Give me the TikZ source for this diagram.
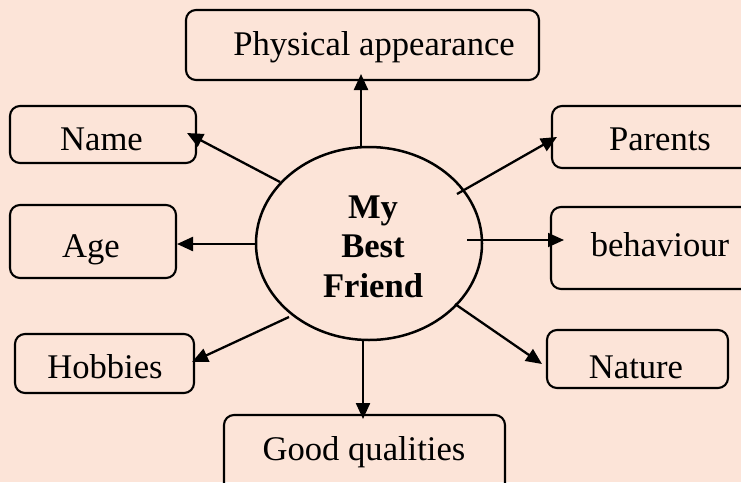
\documentclass[tikz,border=0pt]{standalone}
\usepackage{fontspec}
\setmainfont{Liberation Serif}
\usetikzlibrary{arrows.meta,shapes.geometric}
\definecolor{bgpeach}{RGB}{252,228,216}
\tikzset{
  box/.style={draw=black, line width=2.1pt, rounded corners=10pt, inner sep=0pt, fill=none},
  lbl/.style={font=\fontsize{34.6}{40}\selectfont, inner sep=0pt, anchor=base},
  conn/.style={line width=2.3pt, -{Triangle[length=16pt,width=14pt]}},
}
\begin{document}
\begin{tikzpicture}[x=1pt,y=-1pt]
\useasboundingbox (0,0) rectangle (741,482);
\clip (0,0) rectangle (741,482);
\fill[bgpeach] (0,0) rectangle (741,482);
% boxes
\node[box, minimum width=353pt, minimum height=70pt] (phys) at (362.5,45) {};
\node[box, minimum width=186pt, minimum height=57pt] (name) at (103,134.5) {};
\node[box, minimum width=166pt, minimum height=73pt] (age) at (93,241.5) {};
\node[box, minimum width=223pt, minimum height=62pt] (parents) at (663.5,137) {};
\node[box, minimum width=224pt, minimum height=82pt] (behav) at (663,248) {};
\node[box, minimum width=179pt, minimum height=59pt] (hobbies) at (104.5,363.5) {};
\node[box, minimum width=181pt, minimum height=58pt] (nature) at (637.5,359) {};
\node[box, minimum width=281pt, minimum height=95pt] (good) at (364.5,462.5) {};
\node[draw=black, line width=2.5pt, ellipse, minimum width=226pt, minimum height=193pt, inner sep=0pt] (friend) at (369,243.5) {};
% labels
\node[lbl] (tphys) at (374,55) {Physical appearance};
\node[lbl] (tname) at (101.5,150) {Name};
\node[lbl] (tage) at (91,257) {Age};
\node[lbl] (tparents) at (660,150) {Parents};
\node[lbl] (tbehav) at (660,256) {behaviour};
\node[lbl] (thobbies) at (105,378) {Hobbies};
\node[lbl] (tnature) at (636,378) {Nature};
\node[lbl] (tgood) at (364,460) {Good qualities};
\node[lbl, font=\fontsize{34.6}{39.5}\selectfont\bfseries] (t1) at (373,218) {My};
\node[lbl, font=\fontsize{34.6}{39.5}\selectfont\bfseries] (t2) at (373,257) {Best};
\node[lbl, font=\fontsize{34.6}{39.5}\selectfont\bfseries] (t3) at (373,297) {Friend};
% connector ends
\coordinate (sUp) at (361,147);   \coordinate (eUp) at (361,74);
\coordinate (sName) at (280,182); \coordinate (eName) at (187,133);
\coordinate (sAge) at (256,244);  \coordinate (eAge) at (177,244);
\coordinate (sHob) at (289,317);  \coordinate (eHob) at (192,362);
\coordinate (sDown) at (363,340); \coordinate (eDown) at (363,419);
\coordinate (sNat) at (455,304);  \coordinate (eNat) at (542,364);
\coordinate (sBeh) at (467,240);  \coordinate (eBeh) at (564,240);
\coordinate (sPar) at (457,194);  \coordinate (ePar) at (557,137);
\draw[conn] (sUp) -- (eUp);
\draw[conn] (sName) -- (eName);
\draw[conn] (sAge) -- (eAge);
\draw[conn] (sHob) -- (eHob);
\draw[conn] (sDown) -- (eDown);
\draw[conn] (sNat) -- (eNat);
\draw[conn, line width=1.8pt] (sBeh) -- (eBeh);
\draw[conn] (sPar) -- (ePar);
\end{tikzpicture}
\end{document}
